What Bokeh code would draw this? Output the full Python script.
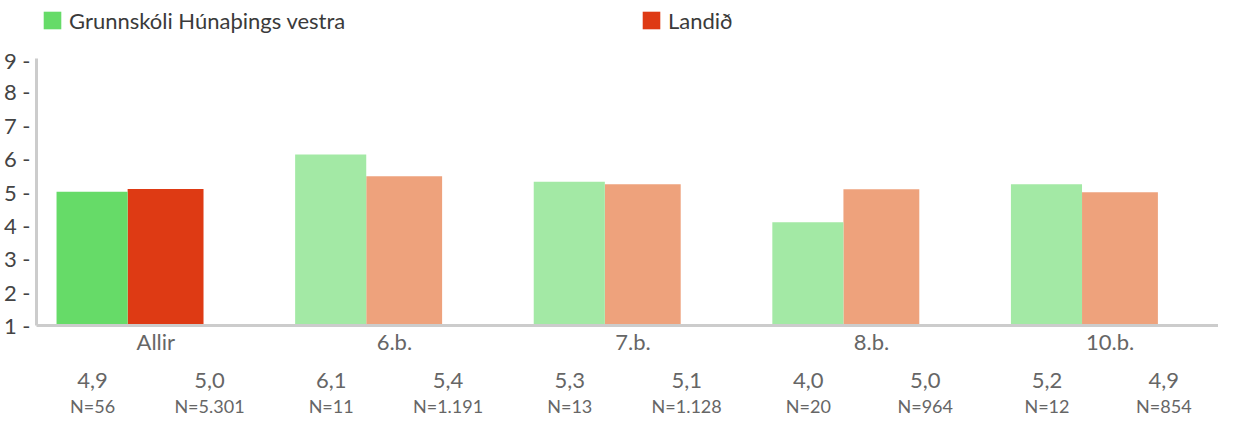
from bokeh.plotting import figure
from bokeh.layouts import column
from bokeh.models import (Range1d, FixedTicker, Legend, LegendItem, LinearAxis,
                          ColumnDataSource)
from bokeh.embed import file_html
from bokeh.resources import INLINE

# ---- data ----
categories = ["Allir", "6.b.", "7.b.", "8.b.", "10.b."]
school_values = [5.01, 6.12, 5.31, 4.09, 5.23]
national_values = [5.09, 5.47, 5.23, 5.08, 4.99]
school_labels = ["4,9", "6,1", "5,3", "4,0", "5,2"]
national_labels = ["5,0", "5,4", "5,1", "5,0", "4,9"]
school_n = ["N=56", "N=11", "N=13", "N=20", "N=12"]
national_n = ["N=5.301", "N=1.191", "N=1.128", "N=964", "N=854"]
series_names = ["Grunnskóli Húnaþings vestra", "Landið"]
y_ticks = [1, 2, 3, 4, 5, 6, 7, 8, 9]

# ---- styling / layout ----
FONT = "Lato"
SCHOOL_MAIN, SCHOOL_LIGHT = "#66DB68", "#A3E9A5"
NAT_MAIN, NAT_LIGHT = "#DE3A14", "#EEA27C"
W = 1218
LEFT = 34           # room for the y tick labels
TOP_H = 46          # legend strip
MAIN_TOP = 12       # room above the frame for the "9" label
MAIN_H = 373        # top border + frame (267) + label rows
CAT = 1000          # width of one category slot in data units
n = len(categories)

school_x = [i * CAT + 233 for i in range(n)]
nat_x = [i * CAT + 541 for i in range(n)]
school_colors = [SCHOOL_MAIN] + [SCHOOL_LIGHT] * (n - 1)
nat_colors = [NAT_MAIN] + [NAT_LIGHT] * (n - 1)

src_school = ColumnDataSource(dict(x=school_x, top=school_values, color=school_colors))
src_nat = ColumnDataSource(dict(x=nat_x, top=national_values, color=nat_colors))
x_range = Range1d(0, n * CAT - 46)

# ---------------- main chart ----------------
p = figure(width=W, height=MAIN_H, x_range=x_range, y_range=Range1d(1, 9),
           output_backend="svg", toolbar_location=None,
           min_border_left=LEFT, min_border_right=0, min_border_top=MAIN_TOP,
           min_border_bottom=0)
p.outline_line_color = None
p.xgrid.visible = False
p.ygrid.visible = False

p.vbar(x="x", top="top", bottom=1, width=318, source=src_nat,
       fill_color="color", line_color=None)
p.vbar(x="x", top="top", bottom=1, width=298, source=src_school,
       fill_color="color", line_color=None)

# y axis
ya = p.yaxis[0]
ya.ticker = FixedTicker(ticks=y_ticks)
ya.major_label_overrides = {t: f"{t} -" for t in y_ticks}
ya.major_tick_line_color = None
ya.minor_tick_line_color = None
ya.axis_line_color = "#cccccc"
ya.axis_line_width = 3
ya.major_label_text_font = FONT
ya.major_label_text_font_size = "22px"
ya.major_label_text_color = "#444444"
ya.major_label_standoff = 0

# x axis: category names
xa = p.xaxis[0]
cat_ticks = [i * CAT + 500 for i in range(n)]
xa.ticker = FixedTicker(ticks=cat_ticks)
xa.major_label_overrides = {t: c for t, c in zip(cat_ticks, categories)}
xa.major_tick_line_color = None
xa.minor_tick_line_color = None
xa.axis_line_color = "#cccccc"
xa.axis_line_width = 3
xa.major_label_text_font = FONT
xa.major_label_text_font_size = "22px"
xa.major_label_text_color = "#666666"
xa.major_label_standoff = -4

# value row and N row as extra axes below
val_ticks, val_over, n_over = [], {}, {}
for i in range(n):
    a, b = i * CAT + 235, i * CAT + 725
    val_ticks += [a, b]
    val_over[a] = school_labels[i]
    val_over[b] = national_labels[i]
    n_over[a] = school_n[i]
    n_over[b] = national_n[i]

va = LinearAxis(ticker=FixedTicker(ticks=val_ticks), major_label_overrides=val_over,
                axis_line_color=None, major_tick_line_color=None, minor_tick_line_color=None,
                major_label_text_font=FONT, major_label_text_font_size="22px",
                major_label_text_color="#666666", major_label_standoff=9)
p.add_layout(va, "below")

na = LinearAxis(ticker=FixedTicker(ticks=val_ticks), major_label_overrides=n_over,
                axis_line_color=None, major_tick_line_color=None, minor_tick_line_color=None,
                major_label_text_font=FONT, major_label_text_font_size="18px",
                major_label_text_color="#666666", major_label_standoff=-2)
p.add_layout(na, "below")

# ---------------- legend strip ----------------
top = figure(width=W, height=TOP_H, x_range=x_range, y_range=Range1d(100, 101),
             x_axis_type=None, y_axis_type=None,
             output_backend="svg", toolbar_location=None,
             min_border_left=0, min_border_right=0, min_border_top=0, min_border_bottom=0)
top.outline_line_color = None
top.xgrid.visible = False
top.ygrid.visible = False
# same series as the chart (outside this strip's y-range, so only the legend shows)
l_school = top.vbar(x="x", top="top", bottom=1, width=298, source=src_school,
                    fill_color="color", line_color=None)
l_nat = top.vbar(x="x", top="top", bottom=1, width=318, source=src_nat,
                 fill_color="color", line_color=None)

legend = Legend(items=[LegendItem(label=series_names[0], renderers=[l_school], index=0),
                       LegendItem(label=series_names[1], renderers=[l_nat], index=0)],
                location=(5, 12), orientation="horizontal",
                glyph_width=22, glyph_height=22, label_standoff=6,
                label_width=500, label_height=28, spacing=71,
                padding=0, margin=0,
                border_line_color=None, background_fill_alpha=0,
                label_text_font=FONT, label_text_font_size="22px",
                label_text_color="#3a3a3a")
top.add_layout(legend, "center")

layout = column(top, p, spacing=0)
open("out.html", "w").write(file_html(layout, INLINE))
